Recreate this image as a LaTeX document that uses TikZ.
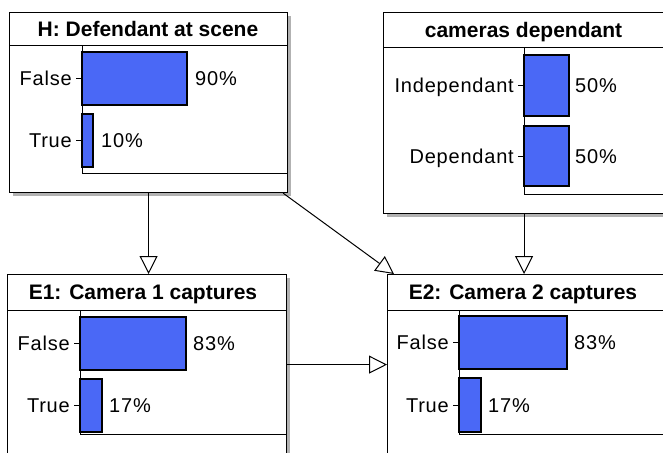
\documentclass[tikz,border=0pt]{standalone}
\usepackage{fontspec}
\setmainfont{Liberation Sans}
\newfontfamily\statefont[LetterSpace=4]{Liberation Sans}
\usetikzlibrary{arrows.meta, positioning, shadows}

\definecolor{barblue}{RGB}{74,104,246}

\tikzset{
    box/.style={draw, line width=1.2pt, fill=white, anchor=north west, inner sep=0pt,
        drop shadow={fill=black!30, opacity=1, shadow xshift=3pt, shadow yshift=-3pt}},
    head/.style={anchor=base, inner sep=0pt, font=\bfseries\fontsize{21}{25}\selectfont},
    state/.style={anchor=base east, inner sep=0pt, font=\statefont\fontsize{20}{24}\selectfont},
    pct/.style={anchor=base west, inner sep=0pt, font=\statefont\fontsize{20}{24}\selectfont},
    bar/.style={draw, line width=1.1pt, fill=barblue},
    rule/.style={line width=1pt},
    link/.style={line width=1pt, -{Triangle[open, length=18pt, width=18pt]}}
}

\begin{document}
\begin{tikzpicture}[x=1pt,y=-1pt]
    \useasboundingbox (0,0) rectangle (663,452);
    \clip (0,0) rectangle (663,452);

    % nodes of the net
    \node[box, minimum width=278pt, minimum height=180pt] (H)   at (9,12)   {};
    \node[box, minimum width=281pt, minimum height=201pt] (cam) at (383,12) {};
    \node[box, minimum width=279pt, minimum height=180pt] (E1)  at (7,274)  {};
    \node[box, minimum width=278pt, minimum height=180pt] (E2)  at (387,274) {};

    % H: Defendant at scene
    \node[head] (Hhead) at (148,36.5) {H: Defendant at scene};
    \draw[rule] (9,46) -- (287,46);
    \draw[bar] (82,52) rectangle (187,105);
    \draw[bar] (82,114) rectangle (93,167);
    \draw[rule] (82,46) -- (82,173) -- (287,173);
    \draw[rule] (76,78.5) -- (82,78.5);
    \draw[rule] (76,140.5) -- (82,140.5);
    \node[state] (Hf)  at (72,85.5)   {False};
    \node[state] (Ht)  at (72,147.5)  {True};
    \node[pct]   (Hfp) at (195,85.5)  {90\%};
    \node[pct]   (Htp) at (101,147.5) {10\%};

    % cameras dependant
    \node[head] (camhead) at (523.5,37.5) {cameras dependant};
    \draw[rule] (383,48) -- (664,48);
    \draw[bar] (524,55) rectangle (569,116);
    \draw[bar] (524,126) rectangle (569,186);
    \draw[rule] (524,48) -- (524,194) -- (664,194);
    \draw[rule] (518,85.5) -- (524,85.5);
    \draw[rule] (518,156) -- (524,156);
    \node[state] (cami)  at (514,92.5) {Independant};
    \node[state] (camd)  at (514,163)  {Dependant};
    \node[pct]   (camip) at (575,92.5) {50\%};
    \node[pct]   (camdp) at (575,163)  {50\%};

    % E1: Camera 1 captures
    \node[head] (E1head) at (143,299.5) {E1: Camera 1 captures};
    \draw[rule] (7,310) -- (286,310);
    \draw[bar] (80,317) rectangle (186,370);
    \draw[bar] (80,379) rectangle (102,432);
    \draw[rule] (80,310) -- (80,434) -- (286,434);
    \draw[rule] (74,343.5) -- (80,343.5);
    \draw[rule] (74,405.5) -- (80,405.5);
    \node[state] (E1f)  at (70,350.5)  {False};
    \node[state] (E1t)  at (70,412.5)  {True};
    \node[pct]   (E1fp) at (193,350.5) {83\%};
    \node[pct]   (E1tp) at (109,412.5) {17\%};

    % E2: Camera 2 captures
    \node[head] (E2head) at (523,299.5) {E2: Camera 2 captures};
    \draw[rule] (387,310) -- (665,310);
    \draw[bar] (459,316) rectangle (567,369);
    \draw[bar] (459,378) rectangle (481,432);
    \draw[rule] (459,310) -- (459,434) -- (665,434);
    \draw[rule] (453,342.5) -- (459,342.5);
    \draw[rule] (453,405) -- (459,405);
    \node[state] (E2f)  at (449,349.5) {False};
    \node[state] (E2t)  at (449,412)   {True};
    \node[pct]   (E2fp) at (574,349.5) {83\%};
    \node[pct]   (E2tp) at (488,412)   {17\%};

    % links
    \draw[link] (H.south) -- (H.south |- E1.north);
    \draw[link] ([xshift=-5pt]H.south east) -- ([xshift=7pt]E2.north west);
    \draw[link] (E1.east) -- (E2.west);
    \draw[link] (cam.south) -- (cam.south |- E2.north);
\end{tikzpicture}
\end{document}
